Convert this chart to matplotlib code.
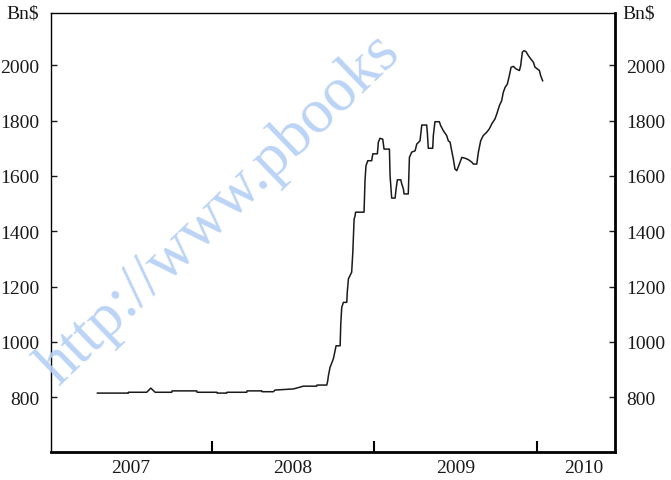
import matplotlib as mpl
import matplotlib.pyplot as plt

mpl.use('Agg')

mpl.rc("font", family="Liberation Serif", size=14)

# weekly balance, Bn$, dates in decimal years
dates = [2007.297, 2007.487, 2007.488, 2007.600, 2007.625, 2007.652, 2007.754, 2007.756,
         2007.908, 2007.910, 2008.031, 2008.033, 2008.092, 2008.094, 2008.215, 2008.217,
         2008.307, 2008.309, 2008.379, 2008.389, 2008.502, 2008.563, 2008.645, 2008.647,
         2008.707, 2008.713, 2008.717, 2008.727, 2008.747, 2008.758, 2008.764, 2008.789,
         2008.793, 2008.799, 2008.809, 2008.830, 2008.833, 2008.840, 2008.850, 2008.860,
         2008.867, 2008.875, 2008.881, 2008.884, 2008.936, 2008.942, 2008.948, 2008.959,
         2008.983, 2008.990, 2009.018, 2009.024, 2009.034, 2009.051, 2009.059, 2009.092,
         2009.096, 2009.106, 2009.127, 2009.133, 2009.141, 2009.162, 2009.168, 2009.178,
         2009.182, 2009.208, 2009.215, 2009.229, 2009.250, 2009.260, 2009.280, 2009.291,
         2009.321, 2009.325, 2009.331, 2009.358, 2009.362, 2009.372, 2009.399, 2009.407,
         2009.423, 2009.444, 2009.454, 2009.465, 2009.475, 2009.485, 2009.495, 2009.506,
         2009.522, 2009.537, 2009.557, 2009.577, 2009.598, 2009.608, 2009.629, 2009.639,
         2009.653, 2009.669, 2009.690, 2009.706, 2009.721, 2009.741, 2009.752, 2009.768,
         2009.782, 2009.792, 2009.803, 2009.817, 2009.829, 2009.840, 2009.854, 2009.870,
         2009.891, 2009.899, 2009.909, 2009.920, 2009.932, 2009.946, 2009.961, 2009.977,
         2009.987, 2010.001, 2010.014, 2010.022, 2010.034]
values = [815, 815, 818, 818, 833, 818, 818, 823,
          823, 818, 818, 815, 815, 818, 818, 823,
          823, 820, 820, 826, 830, 840, 840, 844,
          844, 860, 878, 908, 938, 968, 986, 986,
          1065, 1125, 1143, 1143, 1180, 1228, 1240, 1252,
          1324, 1444, 1456, 1469, 1469, 1583, 1637, 1655,
          1655, 1680, 1680, 1722, 1736, 1733, 1697, 1697,
          1601, 1520, 1520, 1553, 1586, 1586, 1571, 1553,
          1535, 1535, 1667, 1686, 1691, 1715, 1727, 1784,
          1784, 1758, 1700, 1700, 1746, 1796, 1796, 1782,
          1764, 1746, 1727, 1722, 1691, 1661, 1625, 1619,
          1643, 1667, 1664, 1659, 1650, 1643, 1643, 1686,
          1727, 1746, 1758, 1770, 1788, 1806, 1824, 1854,
          1872, 1902, 1920, 1932, 1962, 1993, 1996, 1987,
          1981, 1999, 2047, 2053, 2049, 2035, 2023, 2011,
          1993, 1987, 1981, 1962, 1944]

yticks = [800, 1000, 1200, 1400, 1600, 1800, 2000]
year_edges = [2008, 2009, 2010]
year_mid = [2007.5, 2008.5, 2009.5, 2010.285]
year_labels = ["2007", "2008", "2009", "2010"]

fig = plt.figure(figsize=(6.71, 4.81), dpi=100)
ax = fig.add_axes([0.0756, 0.0576, 0.841, 0.9133])

ax.plot(dates, values, color="#1a1a1a", lw=1.1)

ax.set_xlim(2007.01, 2010.479)
ax.set_ylim(601, 2189)

ax.set_yticks(yticks)
ax.tick_params(axis="y", direction="in", length=4, width=1, pad=8,
               left=True, right=True, labelleft=True, labelright=True,
               labelsize=14, colors="#1a1a1a")
ax.set_xticks(year_edges)
ax.set_xticklabels([])
ax.tick_params(axis="x", which="major", direction="in", length=8, width=1.5)
ax.set_xticks(year_mid, minor=True)
ax.set_xticklabels(year_labels, minor=True)
ax.tick_params(axis="x", which="minor", length=0, pad=5, labelsize=14, colors="#1a1a1a")

ax.spines["left"].set_linewidth(1.0)
ax.spines["top"].set_linewidth(1.0)
ax.spines["right"].set_linewidth(2.0)
ax.spines["bottom"].set_linewidth(2.0)

ax.text(-0.02, 1.0, "Bn$", transform=ax.transAxes, ha="right", va="center",
        fontsize=14, color="#1a1a1a")
ax.text(1.013, 1.0, "Bn$", transform=ax.transAxes, ha="left", va="center",
        fontsize=14, color="#1a1a1a")

# watermark across the plot
fig.text(0.088, 0.195, "http://www.pbooks", rotation=44, rotation_mode="anchor",
         ha="left", va="baseline", fontsize=45, color="#b4cff5", alpha=0.9)

plt.savefig("out.png", dpi=100)
